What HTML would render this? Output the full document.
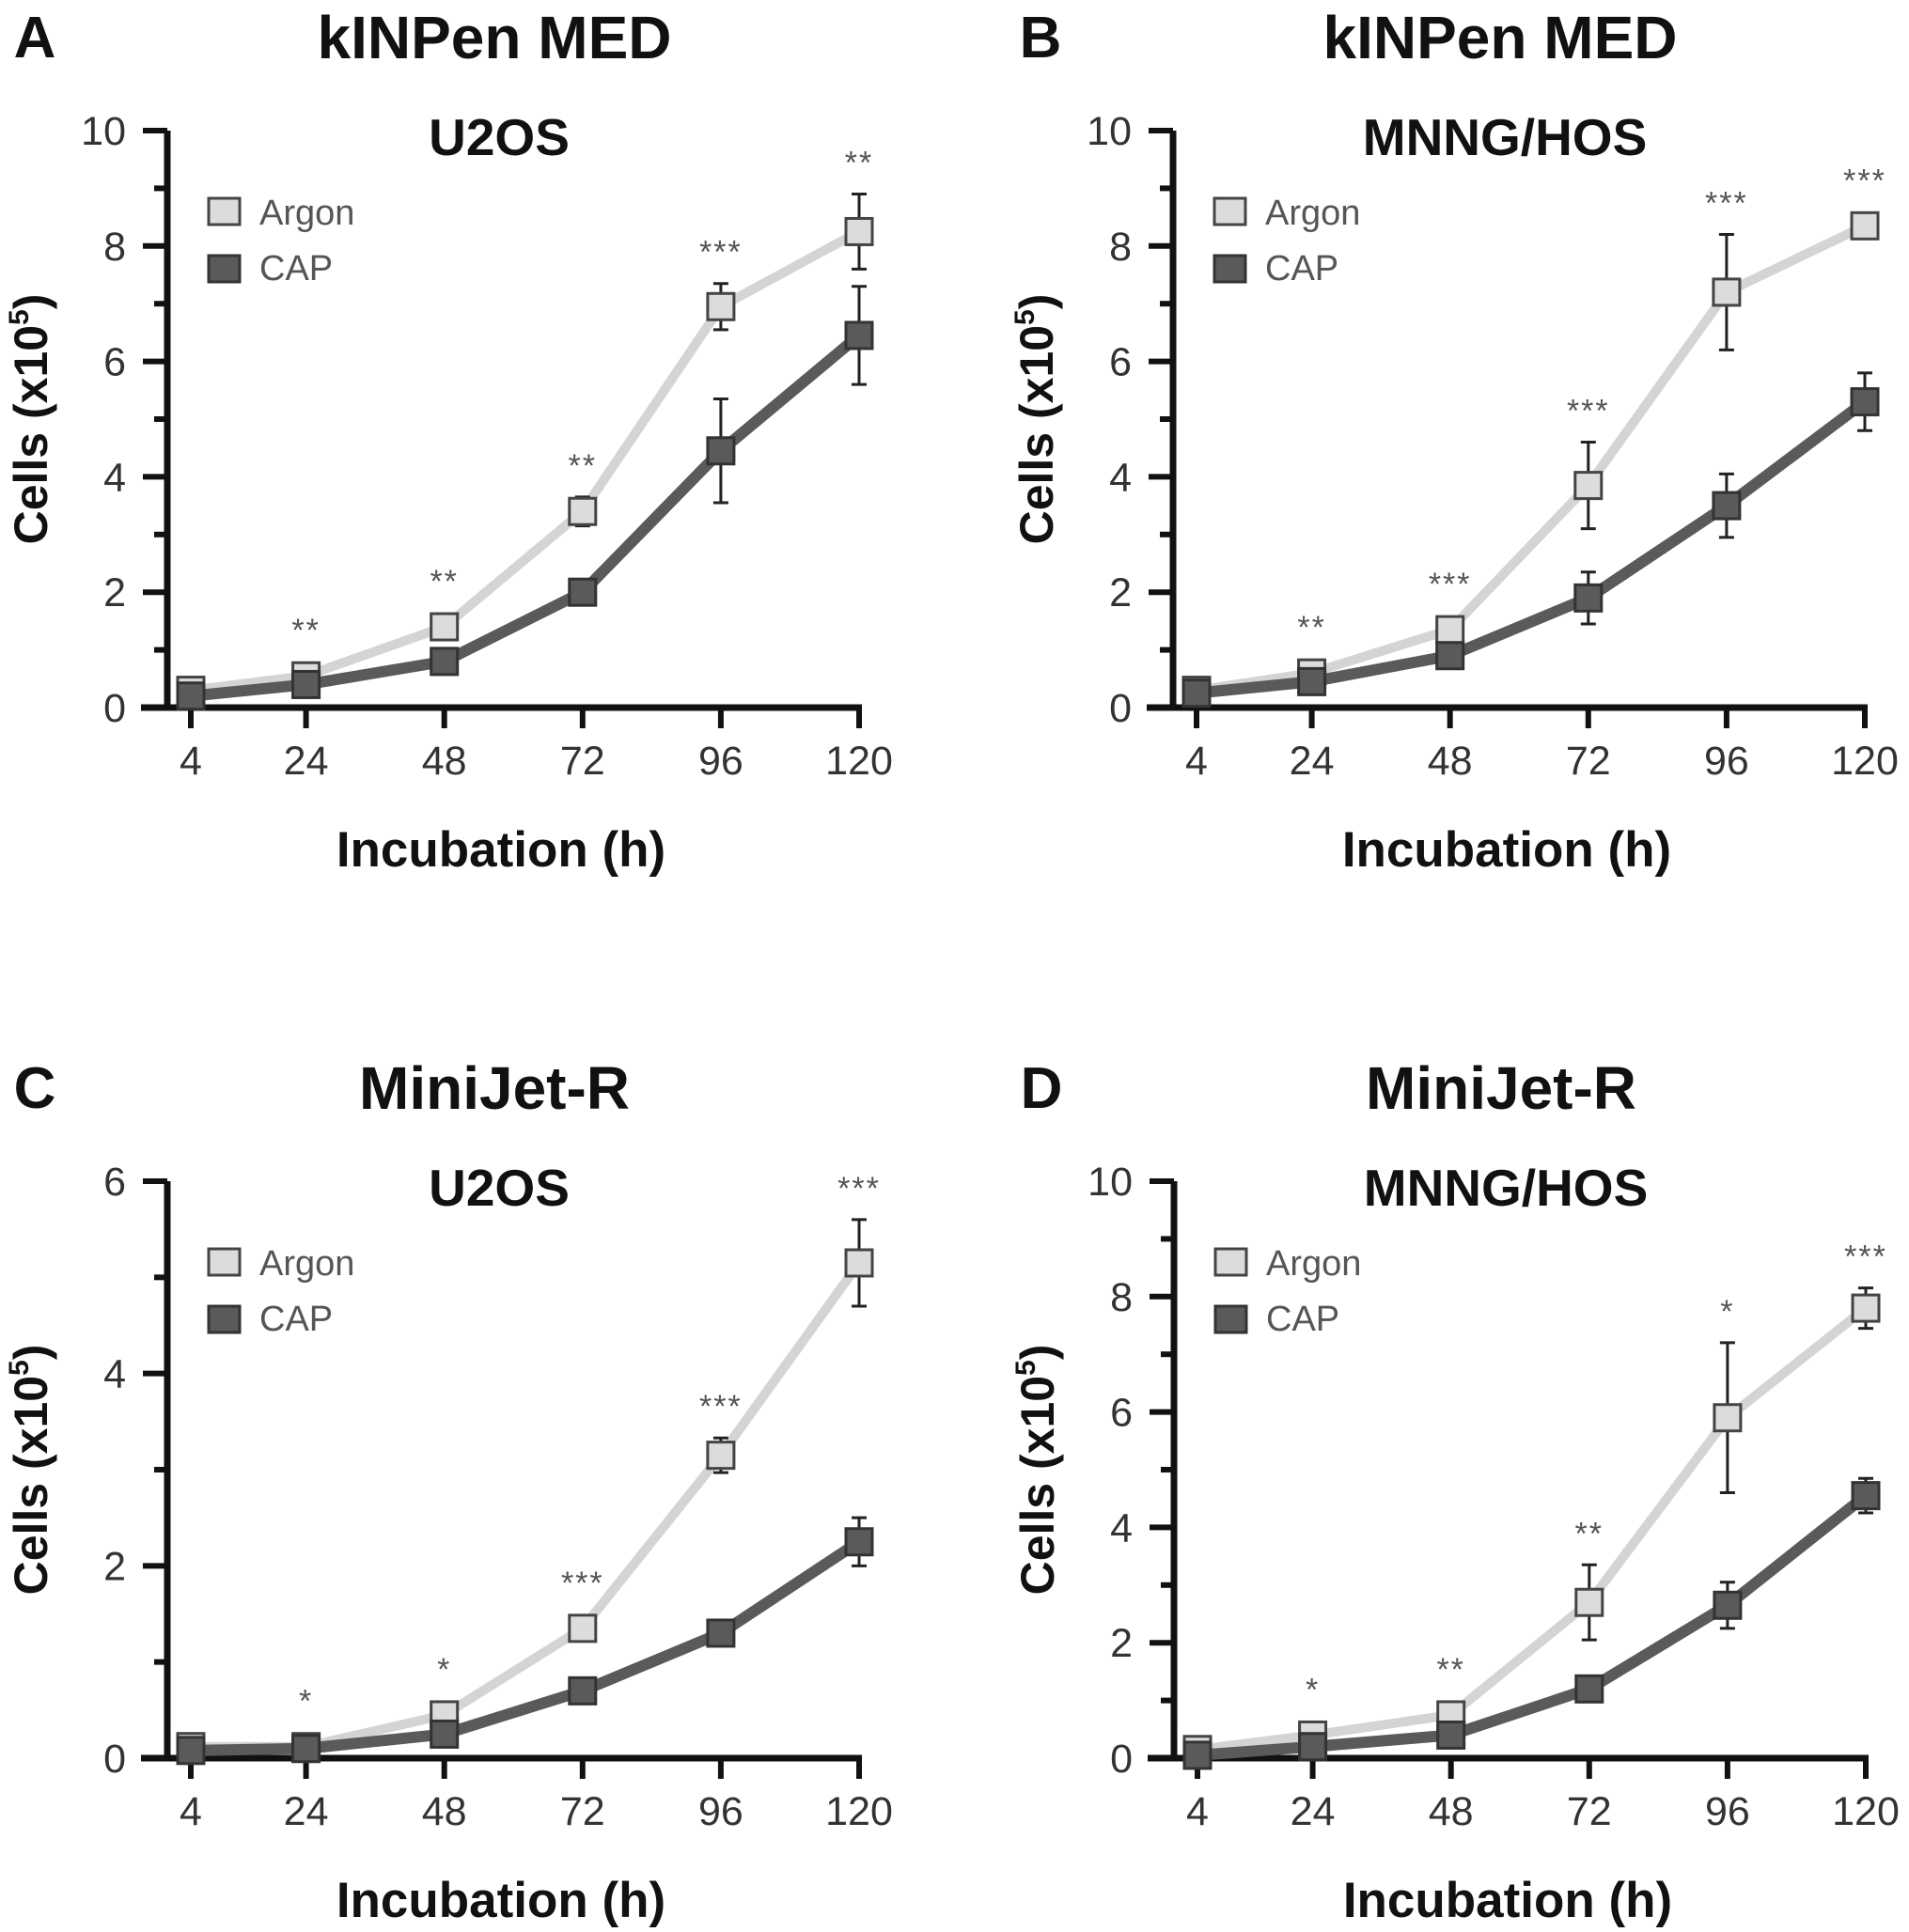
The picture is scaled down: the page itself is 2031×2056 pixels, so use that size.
<!DOCTYPE html>
<html><head><meta charset="utf-8">
<style>
html,body{margin:0;padding:0;background:#fff;}
svg{display:block;font-family:"Liberation Sans",Arial,sans-serif;}
</style></head>
<body>
<svg id="fig" width="2031" height="2056" viewBox="0 0 2031 2056" xmlns="http://www.w3.org/2000/svg"></svg>
<script>
const hours = [4, 24, 48, 72, 96, 120];
const xTickLabels = ["4", "24", "48", "72", "96", "120"];

const aArgon = [0.3, 0.55, 1.4, 3.4, 6.95, 8.25];
const aArgonErr = [0, 0, 0, 0.25, 0.4, 0.65];
const aCap = [0.2, 0.4, 0.8, 2.0, 4.45, 6.45];
const aCapErr = [0, 0, 0, 0, 0.9, 0.85];
const aStars = ["", "**", "**", "**", "***", "**"];

const bArgon = [0.3, 0.6, 1.35, 3.85, 7.2, 8.35];
const bArgonErr = [0, 0, 0.2, 0.75, 1.0, 0.15];
const bCap = [0.25, 0.45, 0.9, 1.9, 3.5, 5.3];
const bCapErr = [0, 0, 0, 0.45, 0.55, 0.5];
const bStars = ["", "**", "***", "***", "***", "***"];

const cArgon = [0.12, 0.12, 0.45, 1.35, 3.15, 5.15];
const cArgonErr = [0, 0, 0, 0, 0.18, 0.45];
const cCap = [0.08, 0.1, 0.25, 0.7, 1.3, 2.25];
const cCapErr = [0, 0, 0, 0, 0, 0.25];
const cStars = ["", "*", "*", "***", "***", "***"];

const dArgon = [0.15, 0.4, 0.75, 2.7, 5.9, 7.8];
const dArgonErr = [0, 0, 0, 0.65, 1.3, 0.35];
const dCap = [0.05, 0.2, 0.4, 1.2, 2.65, 4.55];
const dCapErr = [0, 0, 0, 0, 0.4, 0.3];
const dStars = ["", "*", "**", "**", "*", "***"];

const yTicks10 = [0, 2, 4, 6, 8, 10];
const yTicks6 = [0, 2, 4, 6];

const NS = "http://www.w3.org/2000/svg";
const svg = document.getElementById("fig");
function mk(tag, attrs, parent, text) {
  const e = document.createElementNS(NS, tag);
  for (const k in attrs) e.setAttribute(k, attrs[k]);
  if (text !== undefined) e.textContent = text;
  (parent || svg).appendChild(e);
  return e;
}

function panel(id, dx, dy, letter, device, cell, ymax, yTicks, argon, argonErr, cap, capErr, stars) {
  const g = mk("g", {transform: `translate(${dx},${dy})`});
  
  
  const axX = 178, y0 = 753, yTop = 139;
  const xS = h => 203 + (h - 4) * (711 / 116);
  const yS = v => y0 - v / ymax * (y0 - yTop);

  let t = mk("text", {x: 37, y: 61, "font-size": 62, "font-weight": "bold", "text-anchor": "middle", fill: "#111"}, g, letter);
  
  
  t = mk("text", {x: 526, y: 62, "font-size": 64, "font-weight": "bold", "text-anchor": "middle", fill: "#111"}, g, device);
  
  
  t = mk("text", {x: 531, y: 165, "font-size": 55, "font-weight": "bold", "text-anchor": "middle", fill: "#111"}, g, cell);
  
  

  let ax = mk("line", {x1: axX, y1: yTop, x2: axX, y2: y0 + 3, stroke: "#111", "stroke-width": 7}, g);
  
  
  ax = mk("line", {x1: 150, y1: y0, x2: xS(120) + 3, y2: y0, stroke: "#111", "stroke-width": 7}, g);
  
  

  for (let v = 0; v <= ymax; v++) {
    const major = v % 2 === 0;
    const tk = mk("line", {x1: axX - (major ? 26 : 14), y1: yS(v), x2: axX, y2: yS(v), stroke: "#111", "stroke-width": 6}, g);
    
    
  }
  yTicks.forEach(v => {
    const l = mk("text", {x: 134, y: yS(v) + 15, "font-size": 43, "text-anchor": "end", fill: "#333"}, g, String(v));
    
    
  });
  hours.forEach((h, i) => {
    const tk = mk("line", {x1: xS(h), y1: y0, x2: xS(h), y2: y0 + 22, stroke: "#111", "stroke-width": 6}, g);
    
    
    const l = mk("text", {x: xS(h), y: 824, "font-size": 43, "text-anchor": "middle", fill: "#333"}, g, xTickLabels[i]);
    
    
  });
  t = mk("text", {x: 533, y: 922, "font-size": 53, "font-weight": "bold", "text-anchor": "middle", fill: "#111"}, g, "Incubation (h)");
  
  
  t = mk("text", {x: 0, y: 0, "font-size": 50, "font-weight": "bold", "text-anchor": "middle", fill: "#111", transform: "translate(50,446) rotate(-90)"}, g);
  
  
  mk("tspan", {}, t, "Cells (x10");
  mk("tspan", {dy: -20, "font-size": 30}, t, "5");
  mk("tspan", {dy: 20}, t, ")");

  const series = [
    {name: "argon", vals: argon, err: argonErr, line: "#d4d4d4", lw: 10, fill: "#dcdcdc", stroke: "#444"},
    {name: "cap", vals: cap, err: capErr, line: "#5a5a5a", lw: 12, fill: "#5a5a5a", stroke: "#333"}
  ];
  series.forEach(s => {
    const pl = mk("polyline", {points: hours.map((h, i) => `${xS(h)},${yS(s.vals[i])}`).join(" "), fill: "none", stroke: s.line, "stroke-width": s.lw, "stroke-linejoin": "round"}, g);
    
    
  });
  series.forEach(s => {
    hours.forEach((h, i) => {
      if (s.err[i] > 0) {
        const x = xS(h), yt = yS(s.vals[i] + s.err[i]), yb = yS(s.vals[i] - s.err[i]);
        const eb = mk("path", {d: `M${x},${yt}V${yb}M${x - 8},${yt}H${x + 8}M${x - 8},${yb}H${x + 8}`, stroke: "#222", "stroke-width": 3, fill: "none"}, g);
        
        
      }
      const m = mk("rect", {x: xS(h) - 14, y: yS(s.vals[i]) - 14, width: 28, height: 28, fill: s.fill, stroke: s.stroke, "stroke-width": 3}, g);
      
      
    });
  });
  hours.forEach((h, i) => {
    if (!stars[i]) return;
    const top = Math.min(yS(argon[i] + argonErr[i]), yS(argon[i]) - 15);
    const st = mk("text", {x: xS(h), y: top - 22, "font-size": 34, "text-anchor": "middle", fill: "#555", "letter-spacing": 2}, g, stars[i]);
    
    
  });

  const leg = mk("g", {}, g);
  
  
  let r = mk("rect", {x: 222, y: 211, width: 33, height: 28, fill: "#dcdcdc", stroke: "#444", "stroke-width": 3}, leg);
  
  
  t = mk("text", {x: 276, y: 239, "font-size": 38, fill: "#555"}, leg, "Argon");
  
  
  r = mk("rect", {x: 222, y: 272, width: 33, height: 28, fill: "#5a5a5a", stroke: "#333", "stroke-width": 3}, leg);
  
  
  t = mk("text", {x: 276, y: 298, "font-size": 38, fill: "#555"}, leg, "CAP");
  
  
}

panel("a", 0, 0, "A", "kINPen MED", "U2OS", 10, yTicks10, aArgon, aArgonErr, aCap, aCapErr, aStars);
panel("b", 1070, 0, "B", "kINPen MED", "MNNG/HOS", 10, yTicks10, bArgon, bArgonErr, bCap, bCapErr, bStars);
panel("c", 0, 1118, "C", "MiniJet-R", "U2OS", 6, yTicks6, cArgon, cArgonErr, cCap, cCapErr, cStars);
panel("d", 1071, 1118, "D", "MiniJet-R", "MNNG/HOS", 10, yTicks10, dArgon, dArgonErr, dCap, dCapErr, dStars);
</script>
</body></html>
